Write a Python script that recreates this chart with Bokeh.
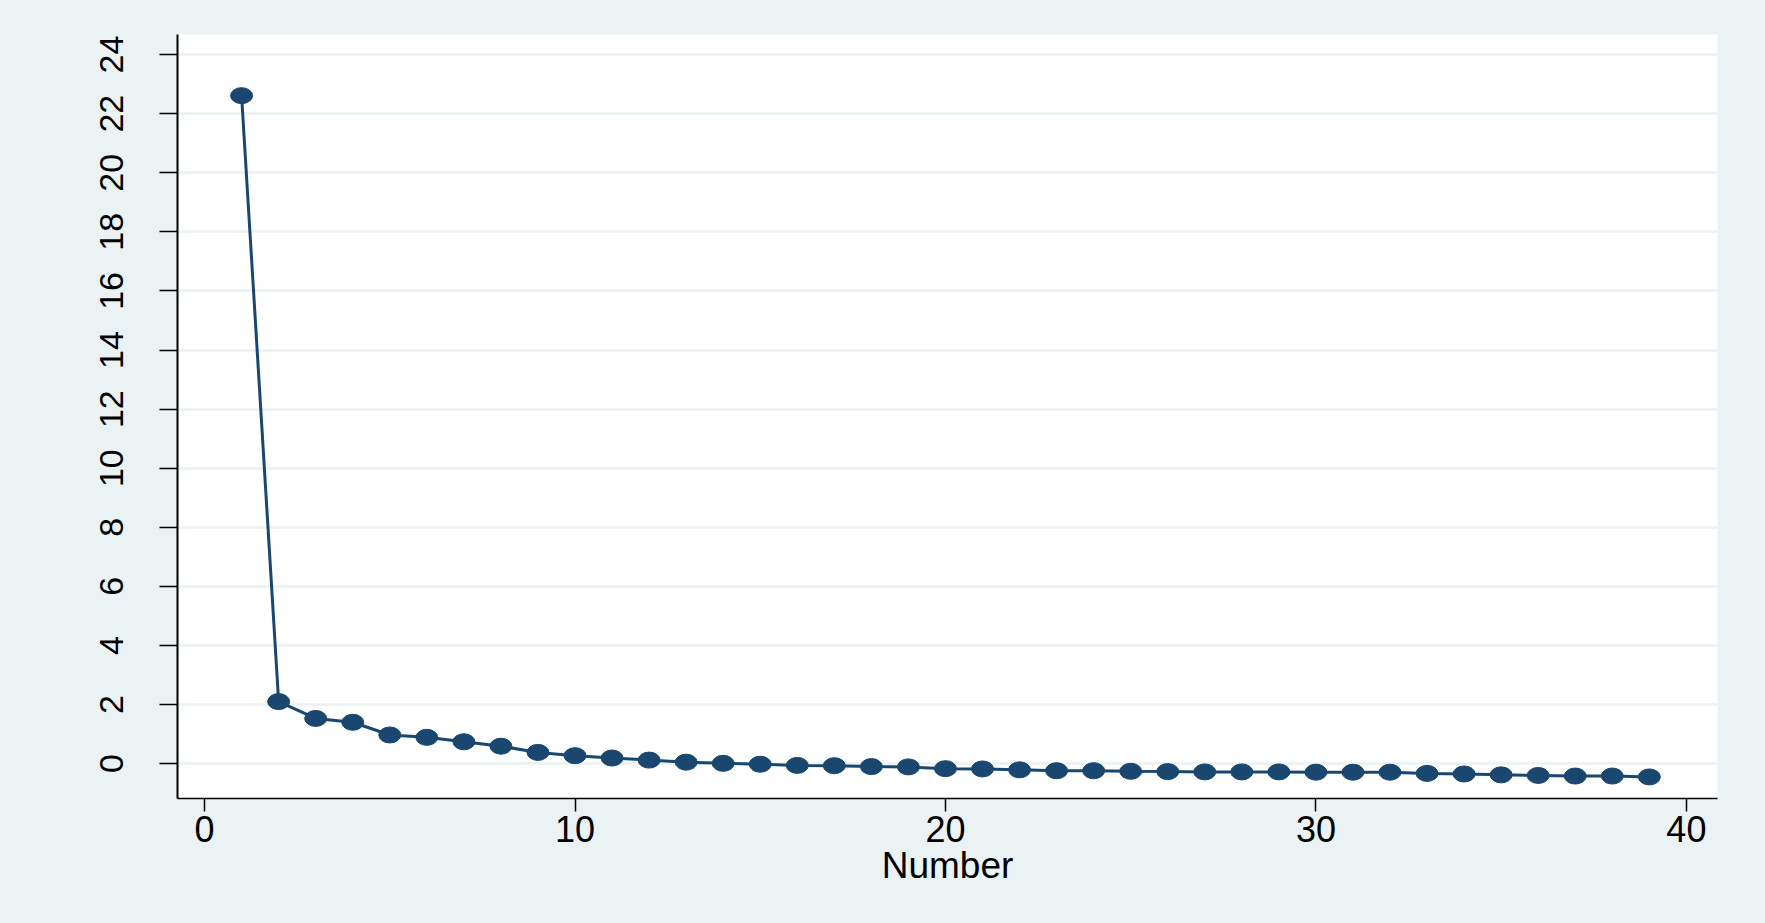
from bokeh.plotting import figure
from bokeh.models import Range1d, FixedTicker, ColumnDataSource
from bokeh.embed import file_html
from bokeh.resources import INLINE

# ---- data ----
number = list(range(1, 40))
eigenvalue = [22.61, 2.10, 1.53, 1.40, 0.97, 0.89, 0.74, 0.59, 0.38, 0.27,
              0.19, 0.12, 0.05, 0.01, -0.02, -0.06, -0.07, -0.10, -0.11, -0.17,
              -0.18, -0.21, -0.24, -0.24, -0.26, -0.27, -0.28, -0.28, -0.28, -0.29,
              -0.29, -0.29, -0.33, -0.35, -0.38, -0.40, -0.42, -0.42, -0.45]
x_ticks = [0, 10, 20, 30, 40]
y_ticks = list(range(0, 26, 2))
x_title = "Number"

BG = "#EAF2F3"
NAVY = "#1a476f"
FONT = "Liberation Sans"

src = ColumnDataSource(dict(x=number, y=eigenvalue))

p = figure(width=1765, height=923, output_backend="svg", toolbar_location=None,
           x_range=Range1d(-0.73, 40.84), y_range=Range1d(-1.18, 24.68),
           min_border_left=177, min_border_right=48, min_border_top=34,
           min_border_bottom=125)

p.background_fill_color = "white"
p.border_fill_color = BG
p.outline_line_color = None

p.line("x", "y", source=src, line_color=NAVY, line_width=3)
p.ellipse("x", "y", source=src, width=22, height=16,
          width_units="screen", height_units="screen",
          fill_color=NAVY, line_color=NAVY)

# grid
p.xgrid.visible = False
p.ygrid.ticker = FixedTicker(ticks=y_ticks)
p.ygrid.grid_line_color = BG
p.ygrid.grid_line_width = 2.5

# x axis
xa = p.xaxis[0]
xa.ticker = FixedTicker(ticks=x_ticks)
xa.axis_label = x_title
xa.axis_label_text_font = FONT
xa.axis_label_text_font_size = "37px"
xa.axis_label_text_font_style = "normal"
xa.axis_label_text_color = "black"
xa.axis_label_standoff = 0
xa.major_label_text_font = FONT
xa.major_label_text_font_size = "36px"
xa.major_label_text_color = "black"
xa.major_label_standoff = 4
xa.major_tick_out = 13
xa.major_tick_in = 0
xa.minor_tick_out = 0
xa.minor_tick_in = 0
xa.axis_line_color = "black"
xa.axis_line_width = 1.5
xa.major_tick_line_color = "black"
xa.major_tick_line_width = 1.5

# y axis
ya = p.yaxis[0]
ya.ticker = FixedTicker(ticks=y_ticks)
ya.major_label_orientation = "vertical"
ya.major_label_text_font = FONT
ya.major_label_text_font_size = "34px"
ya.major_label_text_color = "black"
ya.major_label_standoff = 36
ya.major_tick_out = 18
ya.major_tick_in = 0
ya.minor_tick_out = 0
ya.minor_tick_in = 0
ya.axis_line_color = "black"
ya.axis_line_width = 2
ya.major_tick_line_color = "black"
ya.major_tick_line_width = 1.5

html = file_html(p, INLINE)
html = html.replace("</head>", "<style>html,body{background-color:%s;}</style></head>" % BG, 1)
open("out.html", "w").write(html)
